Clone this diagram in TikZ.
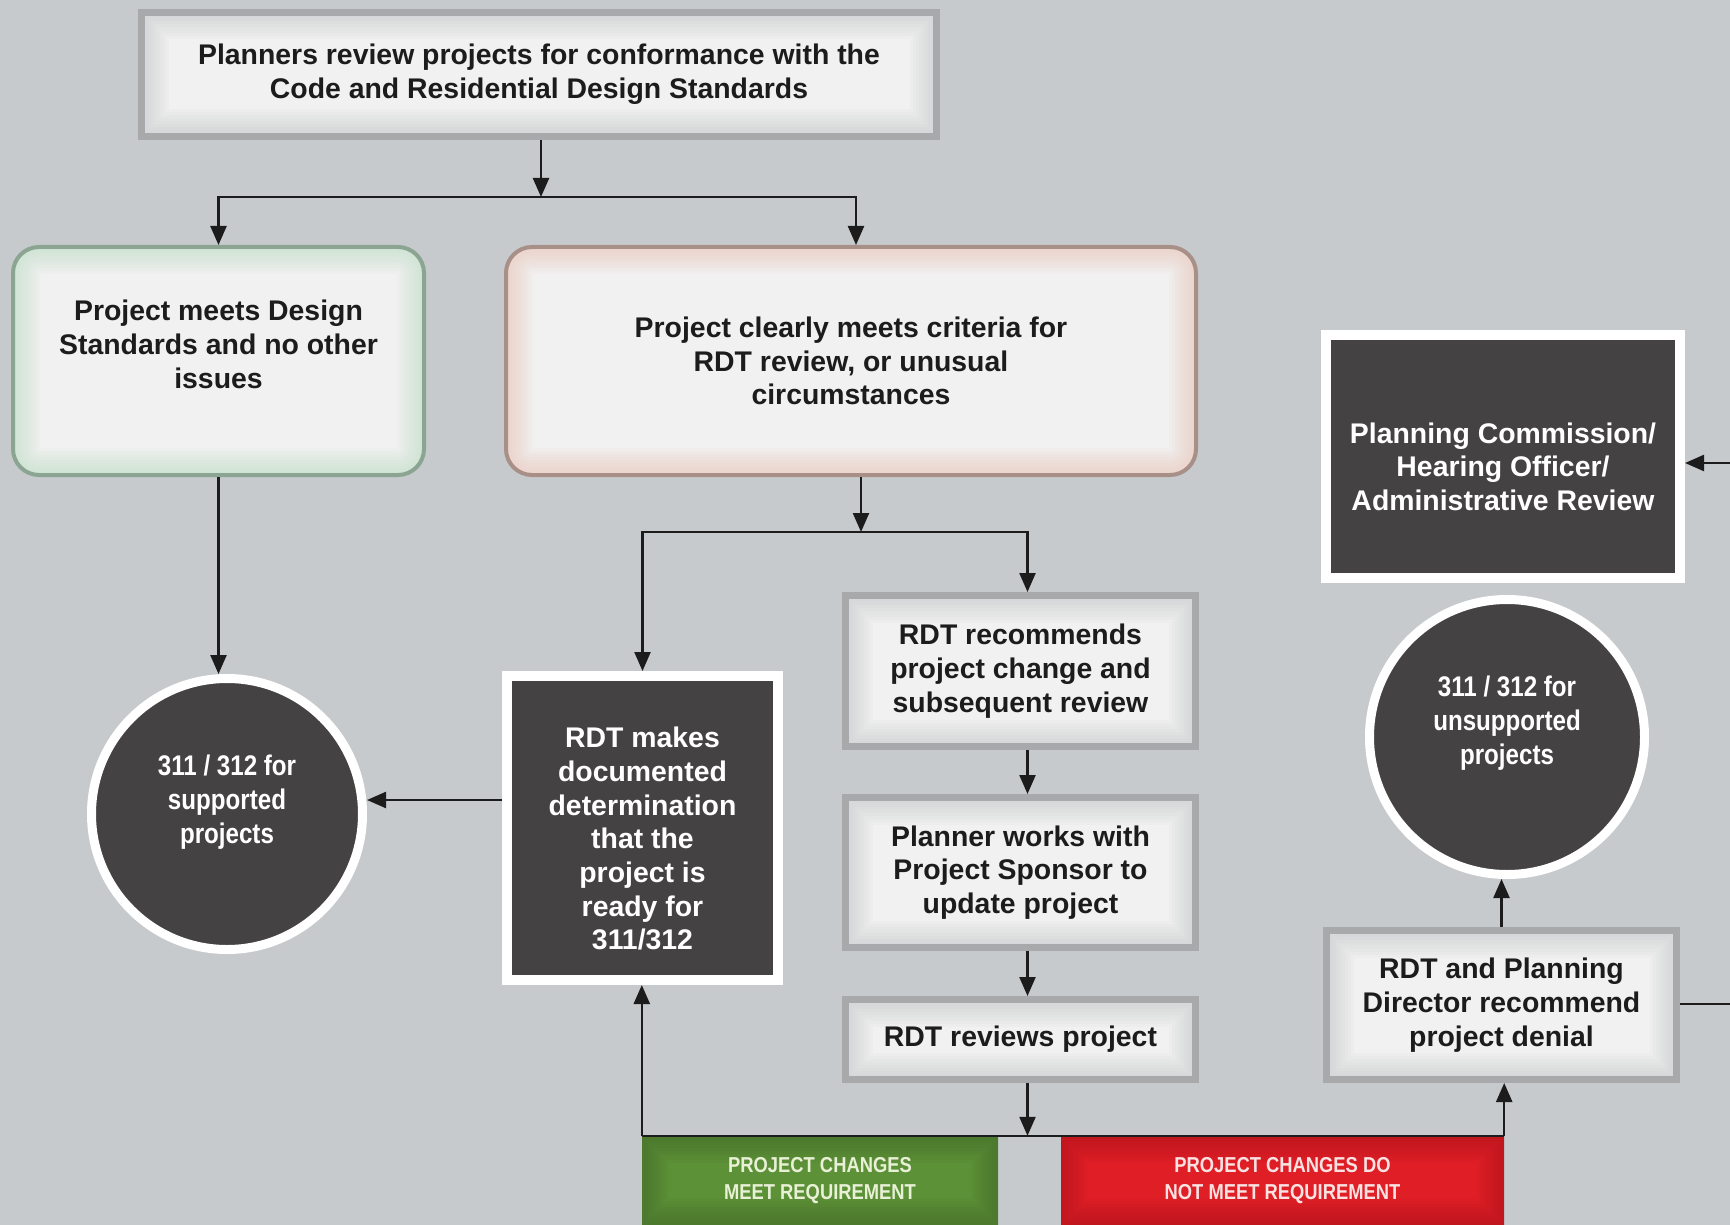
\documentclass[tikz,border=0pt]{standalone}
\usepackage{fontspec}
\setmainfont{Liberation Sans}
\newfontfamily\condfont[FakeStretch=0.85]{Liberation Sans}
\usetikzlibrary{arrows.meta}

\definecolor{bgcol}{RGB}{199,202,205}
\definecolor{inkcol}{RGB}{28,28,28}
\definecolor{boxfill}{RGB}{241,241,241}
\definecolor{boxline}{RGB}{168,169,171}
\definecolor{boxglow}{RGB}{190,191,193}
\definecolor{darkfill}{RGB}{69,66,67}
\definecolor{greenline}{RGB}{140,165,147}
\definecolor{greenglow}{RGB}{180,220,190}
\definecolor{pinkline}{RGB}{168,143,136}
\definecolor{pinkglow}{RGB}{236,190,172}
\definecolor{passgreen}{RGB}{92,145,56}
\definecolor{passtext}{RGB}{232,240,214}
\definecolor{failred}{RGB}{224,30,38}
\definecolor{failtext}{RGB}{250,226,226}

\begin{document}
\begin{tikzpicture}[x=1pt,y=1pt,yscale=-1,
  glow/.style={path picture={\foreach \w in {6,12,...,54} \draw[line width=\w pt, #1, opacity=0.07] (path picture bounding box.north west) rectangle (path picture bounding box.south east);}},
  flowtext/.style={font=\fontsize{28.4}{33.7}\selectfont\bfseries, align=center, text=inkcol, inner sep=0pt},
  graybox/.style={flowtext, draw=boxline, line width=7pt, fill=boxfill, glow=boxglow, minimum width=350pt},
  softbox/.style={flowtext, line width=4pt, rounded corners=26pt, fill=boxfill, minimum height=228pt},
  darkbox/.style={flowtext, text=white, draw=white, line width=10pt, fill=darkfill},
  dotcircle/.style={circle, flowtext, font=\condfont\fontsize{28.4}{33.7}\selectfont\bfseries, text=white, draw=white, line width=9pt, fill=darkfill, minimum size=271pt},
  barbox/.style={font=\condfont\fontsize{21.6}{26.5}\selectfont\bfseries, align=center, inner sep=0pt, minimum height=89pt},
  flowline/.style={draw=inkcol, line width=2.4pt},
  flowarrow/.style={flowline, -{Triangle[length=19pt,width=16pt]}}]

\fill[bgcol] (0,0) rectangle (1730,1225);
\useasboundingbox (0,0) rectangle (1730,1225);

% top of the chart
\node[graybox, minimum width=795pt, minimum height=124pt] (review) at (539,74.5) {Planners review projects for conformance with the\\Code and Residential Design Standards};
\node[softbox, draw=greenline, glow=greenglow, minimum width=411pt] (meets) at (218.5,361) {Project meets Design\\Standards and no other\\issues\\\mbox{}};
\node[softbox, draw=pinkline, glow=pinkglow, minimum width=690pt] (criteria) at (851,361) {Project clearly meets criteria for\\RDT review, or unusual\\circumstances};

% left side
\node[dotcircle] (supported) at (227,814) {311 / 312 for\\supported\\projects\\[-4pt]\mbox{}};
\node[darkbox, minimum width=271pt, minimum height=304pt] (determ) at (642.5,828) {\rule{0pt}{42pt}RDT makes\\documented\\determination\\that the\\project is\\ready for\\311/312};

% middle column
\node[graybox, minimum height=151pt] (recommend) at (1020.5,671) {RDT recommends\\project change and\\subsequent review};
\node[graybox, minimum height=150pt] (works) at (1020.5,872.5) {Planner works with\\Project Sponsor to\\update project};
\node[graybox, minimum height=80pt] (reviews) at (1020.5,1039.5) {RDT reviews project};

% right side
\node[darkbox, minimum width=354pt, minimum height=243pt] (commission) at (1503,456) {\rule{0pt}{42pt}Planning Commission/\\Hearing Officer/\\Administrative Review};
\node[dotcircle, minimum size=275pt] (unsupported) at (1507,737) {311 / 312 for\\unsupported\\projects\\\mbox{}};
\node[graybox, minimum height=149pt] (denial) at (1501.5,1005) {RDT and Planning\\Director recommend\\project denial};

% outcome bars
\node[barbox, fill=passgreen, text=passtext, minimum width=356pt, glow=black!30!passgreen] (passbar) at (820,1180.5) {PROJECT CHANGES\\MEET REQUIREMENT};
\node[barbox, fill=failred, text=failtext, minimum width=443pt, glow=black!25!failred] (failbar) at (1282.5,1180.5) {PROJECT CHANGES DO\\NOT MEET REQUIREMENT};

% connectors
\coordinate (split1) at (541,197);
\coordinate (split2) at (861,532);
\coordinate (side) at (0,800);
\coordinate (edgehigh) at (1730,463);
\coordinate (edgelow) at (1730,1004);

\draw[flowarrow] (review.south -| split1) -- (split1);
\draw[flowarrow] (split1) -| (meets.north);
\draw[flowarrow] (split1) -| ([xshift=5pt]criteria.north);
\draw[flowarrow] (meets.south) -- (meets.south |- supported.north);
\draw[flowarrow] (criteria.south -| split2) -- (split2);
\draw[flowarrow] (split2) -| (determ.north);
\draw[flowarrow] (split2) -| ([xshift=7pt]recommend.north);
\draw[flowarrow] (determ.west |- side) -- (supported.east |- side);
\draw[flowarrow] ([xshift=7pt]recommend.south) -- ([xshift=7pt]works.north);
\draw[flowarrow] ([xshift=7pt]works.south) -- ([xshift=7pt]reviews.north);
\draw[flowarrow] ([xshift=7pt]reviews.south) -- ([xshift=7pt]reviews.south |- passbar.north);
\draw[flowline] (passbar.north west) -- (failbar.north east);
\draw[flowarrow] (passbar.north west) -- (passbar.north west |- determ.south);
\draw[flowarrow] (failbar.north east) -- (failbar.north east |- denial.south);
\draw[flowarrow] (denial.north) -- (denial.north |- unsupported.south);
\draw[flowline] (denial.east |- edgelow) -- (edgelow);
\draw[flowarrow] (edgehigh) -- (commission.east |- edgehigh);

\end{tikzpicture}
\end{document}
